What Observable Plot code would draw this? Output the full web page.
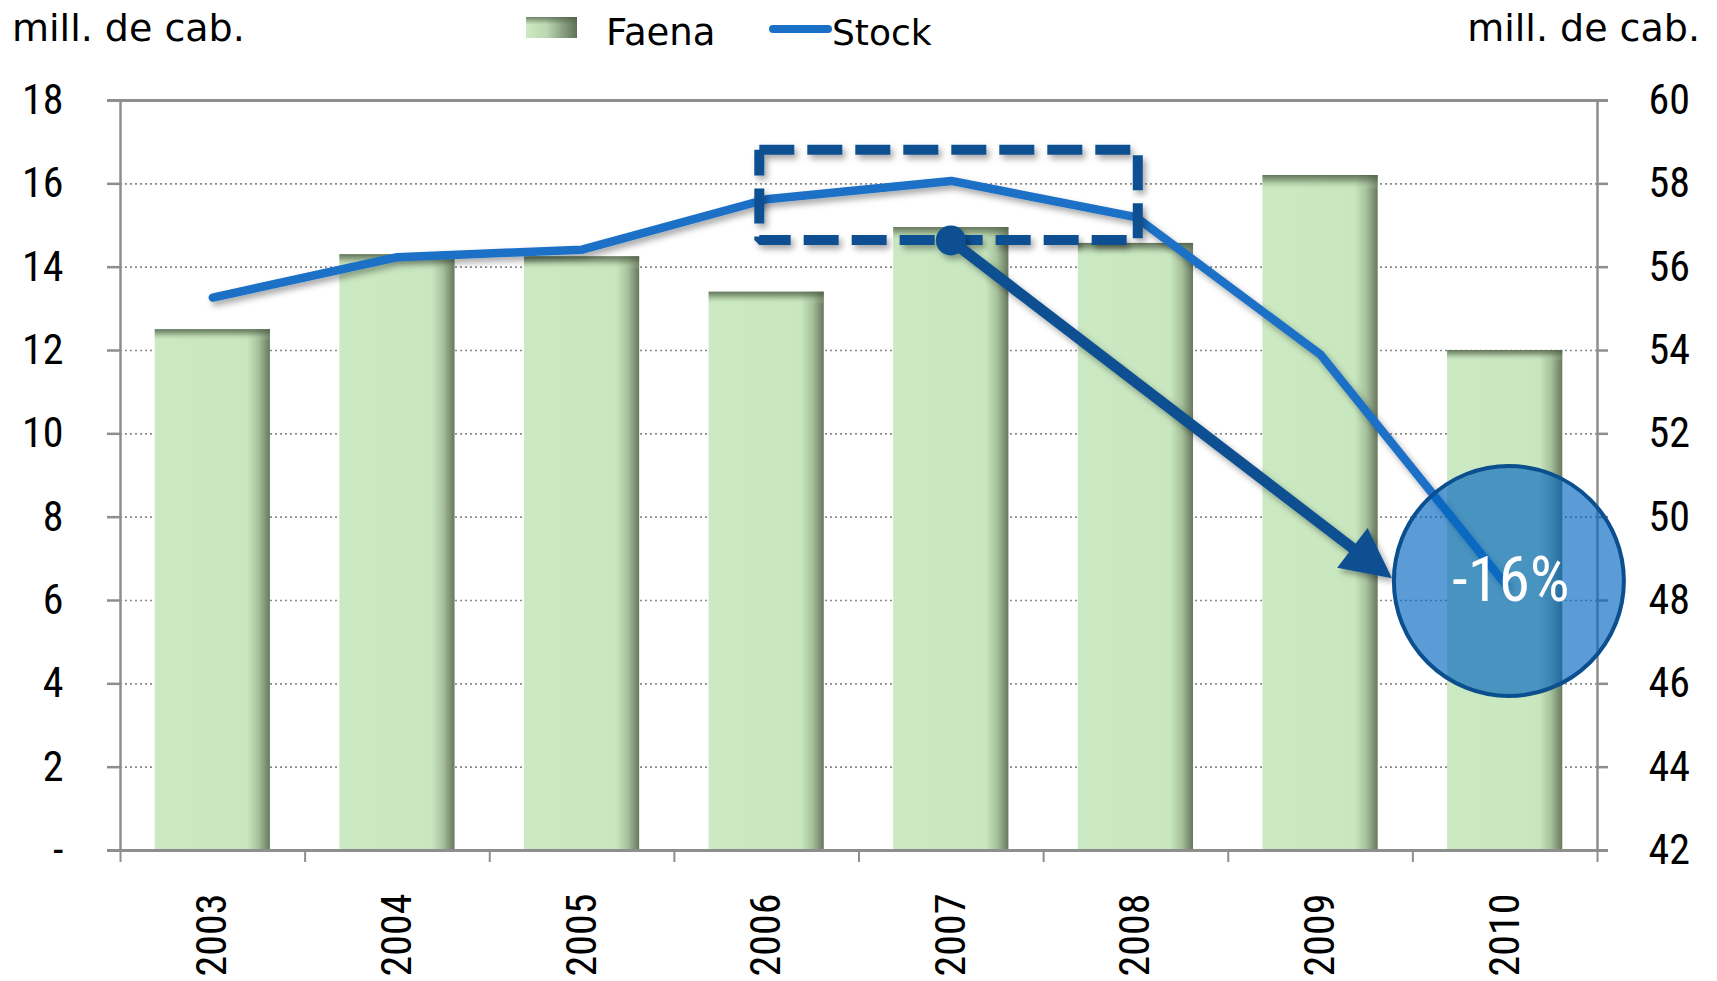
<!DOCTYPE html>
<html>
<head>
<meta charset="utf-8">
<script src="https://cdn.jsdelivr.net/npm/d3@7"></script>
<script src="https://cdn.jsdelivr.net/npm/@observablehq/plot@0.6"></script>
<style>
  html, body { margin: 0; padding: 0; background: #ffffff; }
  #wrap { position: relative; width: 1717px; height: 981px; overflow: hidden; background: #ffffff; }
  #head, #chart svg { display: block; }
</style>
</head>
<body>
<div id="wrap">
  <svg id="head" width="1717" height="60"></svg>
  <div id="chart"></div>
</div>
<script>
// ---------------- data ----------------
const years = [2003, 2004, 2005, 2006, 2007, 2008, 2009, 2010];
const yearLabels = ["2003", "2004", "2005", "2006", "2007", "2008", "2009", "2010"];
const faena = [12.5, 14.3, 14.25, 13.4, 14.95, 14.57, 16.2, 12.0];      // mill. de cab. (left axis)
const stock = [55.27, 56.24, 56.42, 57.63, 58.07, 57.2, 53.9, 48.4];    // mill. de cab. (right axis)
const leftTicks = [0, 2, 4, 6, 8, 10, 12, 14, 16, 18];
const leftTickLabels = ["-", "2", "4", "6", "8", "10", "12", "14", "16", "18"];
const rightTicks = [42, 44, 46, 48, 50, 52, 54, 56, 58, 60];
const rightTickLabels = ["42", "44", "46", "48", "50", "52", "54", "56", "58", "60"];
const seriesNames = ["Faena", "Stock"];
const axisTitle = "mill. de cab.";
// annotations (in year / right-axis units)
const highlightBoxX = [2005.96, 2008.01];
const highlightBoxY = [56.65, 58.82];
const arrowFrom = [2007, 56.63];
const arrowTo = [2009.39, 48.52];
const bubble = [{x: 2010.02, y: 48.47, label: "-16%"}];

// ---------------- helpers ----------------
const narrow = '"Liberation Sans Narrow", "Arial Narrow", "Roboto Condensed", "Open Sans", sans-serif';
const sans = '"DejaVu Sans", "Open Sans", sans-serif';
const darkBlue = "#0b5091";
const lineBlue = "#1a70c6";
const axisGray = "#8e8e8e";
const rightBase = rightTicks[0];
const toLeft = v => v - rightBase;
const X0 = years[0] - 0.5, X1 = years[years.length - 1] + 0.5;
const barHalf = 0.312;
const edges = years.map(y => y - 0.5).concat([X1]);

const rows = years.map((year, i) => ({year, faena: faena[i], stock: stock[i]}));
const boxPath = [
  [highlightBoxX[0], highlightBoxY[1]], [highlightBoxX[1], highlightBoxY[1]],
  [highlightBoxX[1], highlightBoxY[0]], [highlightBoxX[0], highlightBoxY[0]],
  [highlightBoxX[0], highlightBoxY[1]]
].map(([x, y]) => ({x, y}));

// ---------------- header (titles + legend) ----------------
const head = d3.select("#head");
const hdefs = head.append("defs");
const lg = hdefs.append("linearGradient").attr("id", "legGrad").attr("x1", 0).attr("x2", 1).attr("y1", 0).attr("y2", 0);
[[0, "#cbe9c2"], [0.4, "#bcd8b2"], [1, "#5f7157"]].forEach(([o, c]) => lg.append("stop").attr("offset", o).attr("stop-color", c));
const lgt = hdefs.append("linearGradient").attr("id", "legTop").attr("x1", 0).attr("x2", 0).attr("y1", 0).attr("y2", 1);
[[0, "#4d5c45", 0.7], [0.35, "#4d5c45", 0]].forEach(([o, c, a]) => lgt.append("stop").attr("offset", o).attr("stop-color", c).attr("stop-opacity", a));
head.append("text").attr("x", 12).attr("y", 41).attr("font-family", sans).attr("font-size", 38).attr("fill", "#000").text(axisTitle);
head.append("text").attr("x", 1700).attr("y", 41).attr("text-anchor", "end").attr("font-family", sans).attr("font-size", 38).attr("fill", "#000").text(axisTitle);
head.append("rect").attr("x", 526).attr("y", 17).attr("width", 51).attr("height", 21).attr("fill", "url(#legGrad)");
head.append("rect").attr("x", 526).attr("y", 17).attr("width", 51).attr("height", 21).attr("fill", "url(#legTop)");
head.append("text").attr("x", 606).attr("y", 45).attr("font-family", sans).attr("font-size", 37).attr("fill", "#000").text(seriesNames[0]);
head.append("line").attr("x1", 773).attr("x2", 828).attr("y1", 29).attr("y2", 29).attr("stroke", lineBlue).attr("stroke-width", 8).attr("stroke-linecap", "round");
head.append("text").attr("x", 832).attr("y", 45).attr("font-family", sans).attr("font-size", 36).attr("fill", "#000").text(seriesNames[1]);

// ---------------- custom render pieces ----------------
const defsMark = () => {
  const defs = d3.create("svg:defs");
  const g1 = defs.append("linearGradient").attr("id", "barGrad").attr("x1", 0).attr("x2", 1).attr("y1", 0).attr("y2", 0);
  [[0, "#cbe9c2"], [0.8, "#c8e7bf"], [0.9, "#a7c19d"], [1, "#66785d"]].forEach(([o, c]) => g1.append("stop").attr("offset", o).attr("stop-color", c));
  const g2 = defs.append("linearGradient").attr("id", "barTop").attr("x1", 0).attr("x2", 0).attr("y1", 0).attr("y2", 1);
  [[0, "#4f5f47", 0.85], [0.008, "#627558", 0.55], [0.022, "#c8e7bf", 0]].forEach(([o, c, a]) =>
    g2.append("stop").attr("offset", o).attr("stop-color", c).attr("stop-opacity", a));
  const f = defs.append("filter").attr("id", "shadow").attr("x", "-10%").attr("y", "-10%").attr("width", "130%").attr("height", "130%");
  f.append("feDropShadow").attr("dx", 3).attr("dy", 4).attr("stdDeviation", 3).attr("flood-color", "#000").attr("flood-opacity", 0.35);
  return defs.node();
};

const arrowMark = (index, scales) => {
  const sx = scales.x, sy = scales.y;
  const x0 = sx(arrowFrom[0]), y0 = sy(toLeft(arrowFrom[1]));
  const x1 = sx(arrowTo[0]), y1 = sy(toLeft(arrowTo[1]));
  const dx = x1 - x0, dy = y1 - y0, len = Math.hypot(dx, dy);
  const ux = dx / len, uy = dy / len;
  const headLen = 50, headW = 50;
  const bx = x1 - ux * headLen, by = y1 - uy * headLen;
  const g = d3.create("svg:g").attr("filter", "url(#shadow)");
  g.append("line").attr("x1", x0).attr("y1", y0).attr("x2", bx + ux * 3).attr("y2", by + uy * 3)
    .attr("stroke", darkBlue).attr("stroke-width", 11);
  g.append("path")
    .attr("d", `M${x1},${y1}L${bx - uy * headW / 2},${by + ux * headW / 2}L${bx + uy * headW / 2},${by - ux * headW / 2}Z`)
    .attr("fill", darkBlue);
  g.append("circle").attr("cx", x0).attr("cy", y0).attr("r", 15).attr("fill", darkBlue);
  return g.node();
};

// ---------------- chart ----------------
const chart = Plot.plot({
  width: 1717,
  height: 921,
  marginTop: 40,
  marginBottom: 131,
  marginLeft: 120,
  marginRight: 120,
  x: {type: "linear", domain: [X0, X1], axis: null},
  y: {type: "linear", domain: [0, 18], axis: null},
  style: {background: "transparent", overflow: "visible"},
  marks: [
    defsMark,
    // dotted grid
    Plot.ruleY(leftTicks.slice(1, -1), {stroke: "#8a8a8a", strokeWidth: 1.6, strokeDasharray: "2,3"}),
    // bars
    Plot.rectY(rows, {x1: d => d.year - barHalf, x2: d => d.year + barHalf, y1: 0, y2: "faena", fill: "url(#barGrad)"}),
    Plot.rectY(rows, {x1: d => d.year - barHalf, x2: d => d.year + barHalf, y1: 0, y2: "faena", fill: "url(#barTop)"}),
    // frame lines
    Plot.ruleY([leftTicks[leftTicks.length - 1]], {stroke: axisGray, strokeWidth: 3, insetLeft: -13, insetRight: -11}),
    Plot.ruleY([0], {stroke: axisGray, strokeWidth: 3, insetLeft: -13, insetRight: -11}),
    Plot.ruleX([X0, X1], {y1: 18, y2: 0, stroke: axisGray, strokeWidth: 2.5}),
    // y tick marks
    Plot.ruleY(leftTicks, {x1: X0, x2: X0, insetLeft: -13, stroke: axisGray, strokeWidth: 2.5}),
    Plot.ruleY(rightTicks.map(toLeft), {x1: X1, x2: X1, insetRight: -11, stroke: axisGray, strokeWidth: 2.5}),
    // x tick marks
    Plot.ruleX(edges, {y1: 0, y2: 0, insetBottom: -12, stroke: axisGray, strokeWidth: 2}),
    // stock line
    Plot.line(rows, {x: "year", y: d => toLeft(d.stock), stroke: lineBlue, strokeWidth: 8.5, strokeLinejoin: "round"}),
    // highlight box
    Plot.line(boxPath, {x: "x", y: d => toLeft(d.y), stroke: darkBlue, strokeWidth: 10, strokeDasharray: "35,13", strokeLinejoin: "miter", strokeLinecap: "butt"}),
    // arrow
    arrowMark,
    // bubble
    Plot.dot(bubble, {x: "x", y: d => toLeft(d.y), r: 115, fill: "#0365c0", fillOpacity: 0.65, stroke: "#0b4f8f", strokeWidth: 4}),
    Plot.text(bubble, {x: "x", y: d => toLeft(d.y), text: "label", fill: "#ffffff", fontSize: 63, fontFamily: narrow, lineAnchor: "middle", dx: 2}),
    // tick labels
    Plot.text(leftTicks, {y: d => d, text: (d, i) => leftTickLabels[i], frameAnchor: "left", textAnchor: "end", dx: -57, fontSize: 42, fontFamily: narrow, fill: "#000"}),
    Plot.text(rightTicks, {y: d => toLeft(d), text: (d, i) => rightTickLabels[i], frameAnchor: "right", textAnchor: "start", dx: 51, fontSize: 42, fontFamily: narrow, fill: "#000"}),
    Plot.text(years, {x: d => d, text: (d, i) => yearLabels[i], frameAnchor: "bottom", rotate: -90, textAnchor: "end", lineAnchor: "middle", dy: 43, fontSize: 42, fontFamily: narrow, fill: "#000"})
  ]
});

d3.select(chart).selectAll('g[aria-label="line"]').attr("filter", "url(#shadow)");
document.getElementById("chart").appendChild(chart);
</script>
</body>
</html>
